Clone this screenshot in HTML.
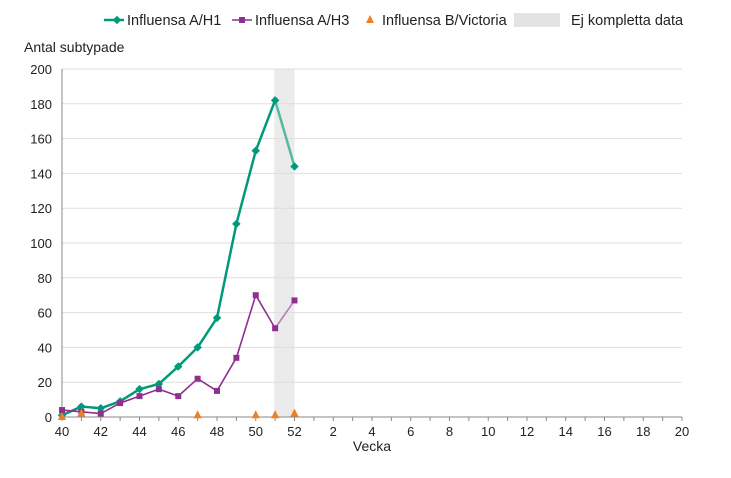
<!DOCTYPE html>
<html><head><meta charset="utf-8"><style>
body{margin:0;background:#fff;font-family:"Liberation Sans",sans-serif;}
svg text{font-family:"Liberation Sans",sans-serif;fill:#222;}
</style></head><body>
<svg id="c" width="731" height="473"></svg>
<script>
const weeks=[40,41,42,43,44,45,46,47,48,49,50,51,52,1,2,3,4,5,6,7,8,9,10,11,12,13,14,15,16,17,18,19,20];
const h1=[1,6,5,9,16,19,29,40,57,111,153,182,144];
const h3=[4,3,2,8,12,16,12,22,15,34,70,51,67];
const bvic=[0,2,null,null,null,null,null,1,null,null,1,1,2];
const yTicks=[0,20,40,60,80,100,120,140,160,180,200];
const incomplete=[51,52];
const NS="http://www.w3.org/2000/svg";
const svg=document.getElementById('c');
const x0=62,x1=682,y0=417,y1=69;
const X=i=>x0+i*(x1-x0)/(weeks.length-1);
const Y=v=>y0-v*(y0-y1)/200;
function el(t,a,p){const e=document.createElementNS(NS,t);for(const k in a)e.setAttribute(k,a[k]);(p||svg).appendChild(e);return e;}
const si=weeks.indexOf(incomplete[0]),ei=weeks.indexOf(incomplete[1]);
const sh=el('rect',{x:X(si)-1,y:y1,width:X(ei)-X(si)+1,height:y0-y1,fill:'#ebebeb'});


yTicks.forEach(v=>{
  const g=el('line',{x1:x0,x2:x1,y1:Y(v),y2:Y(v),stroke:v===0?'#888':'#dedede','stroke-width':1});
  
  
  const t=el('text',{x:x0-10,y:Y(v)+5,'text-anchor':'end','font-size':13});t.textContent=v;
  
  
});
el('line',{x1:x0,x2:x0,y1:y1,y2:y0,stroke:'#888'});
weeks.forEach((w,i)=>{
  el('line',{x1:X(i),x2:X(i),y1:y0,y2:y0+4,stroke:'#888'});
  if(i%2===0){const t=el('text',{x:X(i),y:y0+19,'text-anchor':'middle','font-size':13});t.textContent=w;
  
  }
});
const yt=el('text',{x:24,y:52,'font-size':14});yt.textContent='Antal subtypade';


const xt=el('text',{x:372,y:451,'text-anchor':'middle','font-size':14});xt.textContent='Vecka';


function series(data,col,light,marker,name){
  for(let i=0;i<data.length-1;i++){
    const inc=weeks[i+1]===incomplete[1];
    const l=el('line',{x1:X(i),y1:Y(data[i]),x2:X(i+1),y2:Y(data[i+1]),stroke:inc?light:col,'stroke-width':name==='h1'?2.5:1.6});
    
    
  }
  data.forEach((v,i)=>{
    const c=col;
    let m;
    if(marker==='d')m=el('rect',{x:X(i)-3,y:Y(v)-3,width:6,height:6,fill:c,transform:`rotate(45 ${X(i)} ${Y(v)})`});
    else m=el('rect',{x:X(i)-3,y:Y(v)-3,width:6,height:6,fill:c});
    
    
  });
}
series(h1,'#009a7a','#55b8a0','d','h1');
series(h3,'#8e3090','#b57fb6','s','h3');
bvic.forEach((v,i)=>{if(v===null)return;const x=X(i),y=Y(v);
  const p=el('polygon',{points:`${x-4},${y+3} ${x+4},${y+3} ${x},${y-5}`,fill:'#f07f20'});
  
  
});
const lg=el('g',{});


el('line',{x1:104,x2:124,y1:20,y2:20,stroke:'#009a7a','stroke-width':2.5},lg);
el('rect',{x:114,y:17,width:6,height:6,fill:'#009a7a',transform:'rotate(45 117 20)'},lg);
let t=el('text',{x:127,y:25,'font-size':14.5},lg);t.textContent='Influensa A/H1';
el('line',{x1:232,x2:252,y1:20,y2:20,stroke:'#8e3090','stroke-width':1.6},lg);
el('rect',{x:239,y:17,width:6,height:6,fill:'#8e3090'},lg);
t=el('text',{x:255,y:25,'font-size':14.5},lg);t.textContent='Influensa A/H3';
el('polygon',{points:'366,23 374,23 370,15',fill:'#f07f20'},lg);
t=el('text',{x:382,y:25,'font-size':14.5},lg);t.textContent='Influensa B/Victoria';
el('rect',{x:514,y:13,width:46,height:14,fill:'#e3e3e3'},lg);
t=el('text',{x:571,y:25,'font-size':14.5},lg);t.textContent='Ej kompletta data';
</script>
</body></html>
